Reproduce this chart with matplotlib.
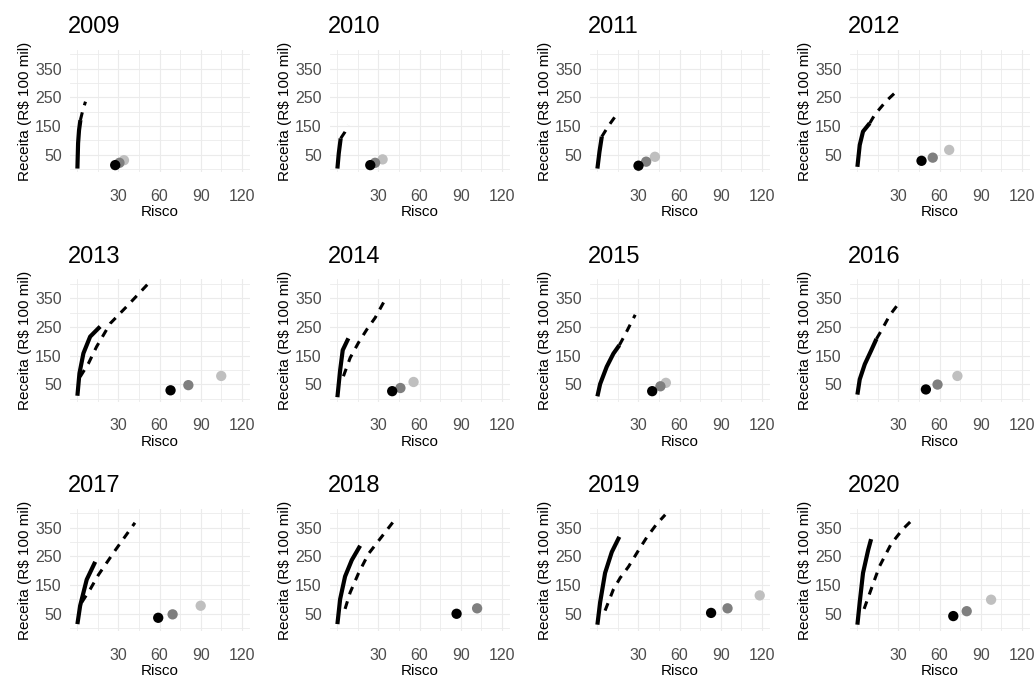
import matplotlib.pyplot as plt
import numpy as np

plt.rcParams['font.family'] = ['Liberation Sans', 'DejaVu Sans']

anos = [2009, 2010, 2011, 2012, 2013, 2014, 2015, 2016, 2017, 2018, 2019, 2020]

# fronteira (linha cheia): risco x receita
front_risco = {
    2009: [0, 0.5, 1.2, 2.2],
    2010: [0, 1.0, 2.4],
    2011: [0, 1.5, 3.2],
    2012: [0, 1.7, 4.1, 9.0],
    2013: [0, 1.5, 4.4, 9.3, 16.6],
    2014: [0, 2.0, 3.9, 8.0],
    2015: [0, 2.0, 6.8, 11.7, 16.0],
    2016: [0, 1.7, 5.4, 10.0, 13.9],
    2017: [0, 2.0, 6.8, 13.0],
    2018: [0, 2.0, 5.6, 10.5, 16.6],
    2019: [0, 2.0, 5.6, 10.5, 16.0],
    2020: [0, 1.7, 4.1, 7.8, 10.0],
}
front_receita = {
    2009: [2, 90, 136, 171],
    2010: [2, 55, 107],
    2011: [2, 60, 113],
    2012: [8, 84, 131, 160],
    2013: [10, 88, 158, 216, 251],
    2014: [5, 99, 169, 210],
    2015: [8, 51, 111, 157, 186],
    2016: [14, 67, 120, 167, 208],
    2017: [14, 78, 169, 231],
    2018: [14, 101, 180, 237, 287],
    2019: [12, 90, 192, 265, 318],
    2020: [12, 90, 192, 271, 310],
}

# curva tracejada
tracej_risco = {
    2009: [2.2, 4.0, 5.9],
    2010: [2.4, 5.6, 8.0],
    2011: [3.2, 8.0, 14.6],
    2012: [9.0, 12.7, 21.0, 26.8],
    2013: [2.0, 8.0, 14.0, 24.0, 36.0, 51.0],
    2014: [4.4, 9.3, 15.4, 21.5, 27.6, 33.7],
    2015: [16.0, 20.0, 27.6],
    2016: [13.9, 17.6, 23.7, 31.0],
    2017: [3.2, 9.3, 15.4, 27.6, 42.0],
    2018: [5.6, 9.3, 15.4, 22.7, 30.0, 42.0],
    2019: [5.6, 11.7, 16.6, 22.7, 30.0, 36.0, 43.0, 49.5],
    2020: [4.9, 10.0, 16.0, 24.6, 33.0, 41.5],
}
tracej_receita = {
    2009: [171, 206, 235],
    2010: [107, 130, 153],
    2011: [113, 150, 194],
    2012: [160, 190, 237, 263],
    2013: [76, 122, 181, 262, 321, 397],
    2014: [78, 142, 195, 241, 282, 335],
    2015: [186, 221, 292],
    2016: [208, 238, 291, 337],
    2017: [90, 135, 186, 271, 367],
    2018: [67, 124, 191, 259, 304, 378],
    2019: [61, 135, 175, 214, 271, 316, 361, 395],
    2020: [67, 135, 214, 293, 344, 384],
}

# carteiras: preto, cinza, cinza claro
pt_risco = {
    2009: [27.6, 30.7, 34.0],
    2010: [24.0, 27.5, 33.0],
    2011: [30.0, 35.6, 42.0],
    2012: [46.8, 55.0, 67.0],
    2013: [68.0, 81.0, 105.0],
    2014: [40.0, 46.0, 55.6],
    2015: [40.0, 46.0, 50.0],
    2016: [50.0, 58.5, 73.0],
    2017: [59.0, 69.5, 90.0],
    2018: [87.0, 102.0, np.nan],
    2019: [83.0, 95.0, 118.5],
    2020: [70.0, 79.8, 97.6],
}
pt_receita = {
    2009: [14, 22, 31],
    2010: [14, 22, 34],
    2011: [12, 26, 43],
    2012: [29, 40, 67],
    2013: [29, 47, 79],
    2014: [26, 37, 58],
    2015: [26, 43, 55],
    2016: [32, 49, 79],
    2017: [36, 48, 78],
    2018: [50, 69, np.nan],
    2019: [53, 69, 114],
    2020: [42, 59, 99],
}
pt_cores = ['#000000', '#7f7f7f', '#bfbfbf']

W, H = 1035, 677
fig = plt.figure(figsize=(W / 100, H / 100), dpi=100)

for i, ano in enumerate(anos):
    r, c = divmod(i, 4)
    left = 70 + 260 * c
    top = 50 + 229.5 * r
    ax = fig.add_axes([left / W, 1 - (top + 122) / H, 180 / W, 122 / H])

    ax.set_xlim(-5.4, 126)
    ax.set_ylim(-10, 415)
    ax.set_xticks([30, 60, 90, 120])
    ax.set_yticks([50, 150, 250, 350])
    ax.set_xticks([0, 15, 45, 75, 105], minor=True)
    ax.set_yticks([0, 100, 200, 300, 400], minor=True)
    ax.grid(True, which='major', color='#ebebeb', lw=0.8)
    ax.grid(True, which='minor', color='#ebebeb', lw=0.6)
    ax.set_axisbelow(True)
    for s in ax.spines.values():
        s.set_visible(False)
    ax.tick_params(which='both', length=0)
    ax.tick_params(axis='x', pad=12, labelsize=11.5, labelcolor='#4d4d4d')
    ax.tick_params(axis='y', pad=6, labelsize=11.5, labelcolor='#4d4d4d')

    ax.plot(tracej_risco[ano], tracej_receita[ano], color='black', lw=2.2,
            dashes=(2.6, 2.4), zorder=2)
    ax.plot(front_risco[ano], front_receita[ano], color='black', lw=3.0,
            solid_capstyle='butt', zorder=3)
    ax.scatter(pt_risco[ano][::-1], pt_receita[ano][::-1], c=pt_cores[::-1],
               s=55, linewidths=0, zorder=4)

    ax.set_title(str(ano), loc='left', fontsize=17, pad=12, x=-0.01)
    ax.set_xlabel('Risco', fontsize=11, labelpad=1)
    ax.set_ylabel('Receita (R$ 100 mil)', fontsize=11, labelpad=2)

fig.savefig('out.png', dpi=100)
